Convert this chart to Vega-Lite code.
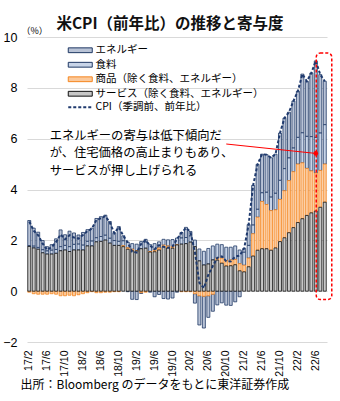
{
  "$schema": "https://vega.github.io/schema/vega-lite/v6.json",
  "width": 300,
  "height": 305,
  "autosize": {"type": "none"},
  "padding": {"left": 27, "top": 37, "right": 13, "bottom": 59},
  "background": "white",
  "config": {"view": {"stroke": null}, "font": "Noto Sans CJK JP"},
  "title": {"text": "米CPI（前年比）の推移と寄与度", "font": "Noto Sans CJK JP", "fontSize": 15.5, "fontWeight": "bold", "color": "#111111", "anchor": "middle", "dx": -7, "offset": 0, "dy": 6},
  "datasets": {
    "cpi": [
      {"m":"17/2","cpi":2.74,"E":0.99,"F":0.03,"G":-0.04,"S":1.76},
      {"m":"17/3","cpi":2.38,"E":0.71,"F":0.07,"G":-0.10,"S":1.70},
      {"m":"17/4","cpi":2.20,"E":0.60,"F":0.07,"G":-0.12,"S":1.65},
      {"m":"17/5","cpi":1.87,"E":0.36,"F":0.12,"G":-0.12,"S":1.51},
      {"m":"17/6","cpi":1.63,"E":0.17,"F":0.12,"G":-0.12,"S":1.46},
      {"m":"17/7","cpi":1.73,"E":0.22,"F":0.15,"G":-0.10,"S":1.46},
      {"m":"17/8","cpi":1.94,"E":0.42,"F":0.15,"G":-0.12,"S":1.49},
      {"m":"17/9","cpi":2.23,"E":0.66,"F":0.16,"G":-0.18,"S":1.59},
      {"m":"17/10","cpi":2.04,"E":0.42,"F":0.18,"G":-0.18,"S":1.62},
      {"m":"17/11","cpi":2.20,"E":0.61,"F":0.19,"G":-0.16,"S":1.56},
      {"m":"17/12","cpi":2.11,"E":0.45,"F":0.22,"G":-0.18,"S":1.62},
      {"m":"18/1","cpi":2.07,"E":0.36,"F":0.23,"G":-0.14,"S":1.62},
      {"m":"18/2","cpi":2.21,"E":0.50,"F":0.19,"G":-0.10,"S":1.62},
      {"m":"18/3","cpi":2.36,"E":0.46,"F":0.18,"G":-0.06,"S":1.78},
      {"m":"18/4","cpi":2.46,"E":0.51,"F":0.19,"G":-0.02,"S":1.78},
      {"m":"18/5","cpi":2.80,"E":0.76,"F":0.16,"G":-0.06,"S":1.94},
      {"m":"18/6","cpi":2.87,"E":0.78,"F":0.19,"G":-0.06,"S":1.96},
      {"m":"18/7","cpi":2.95,"E":0.79,"F":0.19,"G":-0.04,"S":2.01},
      {"m":"18/8","cpi":2.70,"E":0.66,"F":0.19,"G":-0.04,"S":1.89},
      {"m":"18/9","cpi":2.28,"E":0.31,"F":0.19,"G":-0.02,"S":1.80},
      {"m":"18/10","cpi":2.52,"E":0.58,"F":0.16,"G":-0.02,"S":1.80},
      {"m":"18/11","cpi":2.18,"E":0.20,"F":0.19,"G":0.04,"S":1.75},
      {"m":"18/12","cpi":1.91,"E":-0.02,"F":0.22,"G":0.06,"S":1.65},
      {"m":"19/1","cpi":1.55,"E":-0.32,"F":0.22,"G":0.06,"S":1.59},
      {"m":"19/2","cpi":1.52,"E":-0.33,"F":0.27,"G":0.00,"S":1.58},
      {"m":"19/3","cpi":1.86,"E":-0.03,"F":0.28,"G":-0.06,"S":1.67},
      {"m":"19/4","cpi":2.00,"E":0.11,"F":0.24,"G":-0.04,"S":1.69},
      {"m":"19/5","cpi":1.79,"E":-0.04,"F":0.27,"G":0.02,"S":1.54},
      {"m":"19/6","cpi":1.65,"E":-0.22,"F":0.26,"G":0.06,"S":1.55},
      {"m":"19/7","cpi":1.81,"E":-0.13,"F":0.24,"G":0.08,"S":1.62},
      {"m":"19/8","cpi":1.75,"E":-0.29,"F":0.23,"G":0.06,"S":1.75},
      {"m":"19/9","cpi":1.71,"E":-0.31,"F":0.24,"G":0.08,"S":1.70},
      {"m":"19/10","cpi":1.76,"E":-0.27,"F":0.28,"G":0.06,"S":1.69},
      {"m":"19/11","cpi":2.05,"E":-0.04,"F":0.27,"G":0.00,"S":1.82},
      {"m":"19/12","cpi":2.29,"E":0.22,"F":0.24,"G":-0.02,"S":1.85},
      {"m":"20/1","cpi":2.49,"E":0.40,"F":0.24,"G":-0.02,"S":1.87},
      {"m":"20/2","cpi":2.33,"E":0.18,"F":0.24,"G":-0.02,"S":1.93},
      {"m":"20/3","cpi":1.54,"E":-0.37,"F":0.26,"G":-0.10,"S":1.75},
      {"m":"20/4","cpi":0.33,"E":-1.15,"F":0.47,"G":-0.18,"S":1.19},
      {"m":"20/5","cpi":0.12,"E":-1.25,"F":0.54,"G":-0.20,"S":1.03},
      {"m":"20/6","cpi":0.65,"E":-0.85,"F":0.61,"G":-0.18,"S":1.07},
      {"m":"20/7","cpi":0.99,"E":-0.67,"F":0.55,"G":-0.12,"S":1.23},
      {"m":"20/8","cpi":1.31,"E":-0.54,"F":0.55,"G":0.08,"S":1.22},
      {"m":"20/9","cpi":1.37,"E":-0.46,"F":0.53,"G":0.20,"S":1.10},
      {"m":"20/10","cpi":1.18,"E":-0.55,"F":0.53,"G":0.21,"S":0.99},
      {"m":"20/11","cpi":1.17,"E":-0.56,"F":0.50,"G":0.23,"S":1.00},
      {"m":"20/12","cpi":1.36,"E":-0.42,"F":0.53,"G":0.21,"S":1.04},
      {"m":"21/1","cpi":1.40,"E":-0.22,"F":0.54,"G":0.28,"S":0.80},
      {"m":"21/2","cpi":1.68,"E":0.15,"F":0.51,"G":0.26,"S":0.76},
      {"m":"21/3","cpi":2.62,"E":0.82,"F":0.50,"G":0.34,"S":0.96},
      {"m":"21/4","cpi":4.16,"E":1.56,"F":0.34,"G":0.88,"S":1.38},
      {"m":"21/5","cpi":4.99,"E":1.77,"F":0.31,"G":1.30,"S":1.61},
      {"m":"21/6","cpi":5.39,"E":1.52,"F":0.34,"G":1.86,"S":1.67},
      {"m":"21/7","cpi":5.37,"E":1.48,"F":0.48,"G":1.74,"S":1.67},
      {"m":"21/8","cpi":5.25,"E":1.55,"F":0.53,"G":1.56,"S":1.61},
      {"m":"21/9","cpi":5.39,"E":1.54,"F":0.65,"G":1.50,"S":1.70},
      {"m":"21/10","cpi":6.22,"E":1.86,"F":0.75,"G":1.66,"S":1.95},
      {"m":"21/11","cpi":6.81,"E":1.99,"F":0.87,"G":1.85,"S":2.10},
      {"m":"21/12","cpi":7.04,"E":1.80,"F":0.89,"G":2.05,"S":2.30},
      {"m":"22/1","cpi":7.48,"E":1.85,"F":0.93,"G":2.20,"S":2.50},
      {"m":"22/2","cpi":7.87,"E":1.82,"F":1.05,"G":2.30,"S":2.70},
      {"m":"22/3","cpi":8.54,"E":2.31,"F":1.18,"G":2.20,"S":2.85},
      {"m":"22/4","cpi":8.26,"E":2.17,"F":1.26,"G":1.85,"S":2.98},
      {"m":"22/5","cpi":8.58,"E":2.50,"F":1.35,"G":1.65,"S":3.08},
      {"m":"22/6","cpi":9.06,"E":3.01,"F":1.40,"G":1.50,"S":3.15},
      {"m":"22/7","cpi":8.52,"E":2.30,"F":1.47,"G":1.45,"S":3.30},
      {"m":"22/8","cpi":8.26,"E":1.71,"F":1.55,"G":1.50,"S":3.50}
    ]
  },
  "layer": [
    {
      "data": {"name": "cpi"},
      "transform": [{"fold": ["E", "F", "G", "S"], "as": ["c", "v"]}],
      "mark": {"type": "bar", "size": 3, "strokeWidth": 0.8},
      "encoding": {
        "x": {
          "field": "m", "type": "ordinal", "sort": null,
          "scale": {"paddingInner": 0.1, "paddingOuter": 0.05},
          "axis": {
            "values": ["17/2","17/6","17/10","18/2","18/6","18/10","19/2","19/6","19/10","20/2","20/6","20/10","21/2","21/6","21/10","22/2","22/6"],
            "labelAngle": -90, "labelFont": "Liberation Sans", "labelFontSize": 10.5, "labelColor": "#000000",
            "ticks": false, "domain": false, "grid": false, "labelPadding": 8,
            "title": "出所：Bloomberg のデータをもとに東洋証券作成",
            "titleFont": "Noto Sans CJK JP", "titleFontSize": 12, "titleFontWeight": "normal", "titleColor": "#000000",
            "titleAnchor": "start", "titleAlign": "left", "titleBaseline": "middle", "titleX": -7, "titleY": 42
          }
        },
        "y": {
          "field": "v", "type": "quantitative",
          "scale": {"domain": [-2, 10], "nice": false, "zero": false},
          "axis": {
            "values": [-2, 0, 2, 4, 6, 8, 10],
            "labelFont": "Liberation Sans", "labelFontSize": 12.5, "labelColor": "#000000",
            "ticks": false, "domain": false, "labelPadding": 10,
            "gridColor": "#d9d9d9", "gridWidth": 1,
            "title": "（%）", "titleAngle": 0, "titleFont": "Noto Sans CJK JP", "titleFontSize": 9, "titleFontWeight": "normal", "titleColor": "#000000",
            "titleAlign": "left", "titleBaseline": "middle", "titleX": -6, "titleY": -7
          }
        },
        "color": {
          "field": "c", "type": "nominal",
          "scale": {"domain": ["E", "F", "G", "S"], "range": ["#b9c3d6", "#c9d5e8", "#fbc99b", "#c8c8c8"]},
          "legend": {
            "title": null, "orient": "none", "legendX": 40, "legendY": 8, "padding": 0,
            "labelExpr": "datum.value == 'E' ? 'エネルギー' : datum.value == 'F' ? '食料' : datum.value == 'G' ? '商品（除く食料、エネルギー）' : 'サービス（除く食料、エネルギー）'",
            "symbolType": "M-1,-0.6H5V0.6H-1Z", "symbolSize": 64, "symbolStrokeWidth": 1, "symbolStrokeColor": "#3b4a66",
            "labelFont": "Noto Sans CJK JP", "labelFontSize": 10.5, "labelColor": "#000000", "labelLimit": 300,
            "rowPadding": 3.5, "labelOffset": 18
          }
        },
        "stroke": {
          "field": "c", "type": "nominal",
          "scale": {"domain": ["E", "F", "G", "S"], "range": ["#1f3864", "#1f3864", "#f5861f", "#111111"]},
          "legend": null
        }
      }
    },
    {
      "data": {"name": "cpi"},
      "mark": {"type": "line", "color": "#1f3a6e", "strokeWidth": 2},
      "encoding": {
        "x": {"field": "m", "type": "ordinal", "sort": null},
        "y": {"field": "cpi", "type": "quantitative"},
        "strokeDash": {
          "datum": "CPI（季調前、前年比）",
          "scale": {"range": [[3, 2]]},
          "legend": {
            "title": null, "orient": "none", "legendX": 40, "legendY": 65, "padding": 0,
            "symbolType": "M-1,0H5", "symbolSize": 64, "symbolStrokeWidth": 2, "symbolStrokeColor": "#1f3a6e",
            "labelFont": "Noto Sans CJK JP", "labelFontSize": 10.5, "labelColor": "#000000", "labelLimit": 300, "labelOffset": 18
          }
        }
      }
    },
    {
      "data": {"values": [
        {"m": "17/7", "v": 6.1, "t": "エネルギーの寄与は低下傾向だ"},
        {"m": "17/7", "v": 5.42, "t": "が、住宅価格の高止まりもあり、"},
        {"m": "17/7", "v": 4.74, "t": "サービスが押し上げられる"}
      ]},
      "mark": {"type": "text", "align": "left", "baseline": "middle", "font": "Noto Sans CJK JP", "fontSize": 12.3, "lineHeight": 14, "color": "#000000", "dx": -2},
      "encoding": {
        "x": {"field": "m", "type": "ordinal", "sort": null},
        "y": {"field": "v", "type": "quantitative"},
        "text": {"field": "t"}
      }
    },
    {
      "data": {"values": [{"m": "20/10", "v": 5.79}, {"m": "22/6", "v": 5.42}]},
      "mark": {"type": "line", "color": "#ff0000", "strokeWidth": 1},
      "encoding": {
        "x": {"field": "m", "type": "ordinal", "sort": null},
        "y": {"field": "v", "type": "quantitative"}
      }
    },
    {
      "data": {"values": [{"m": "22/6", "v": 5.42}]},
      "mark": {"type": "point", "filled": true, "color": "#ff0000", "size": 22, "opacity": 1},
      "encoding": {
        "x": {"field": "m", "type": "ordinal", "sort": null},
        "y": {"field": "v", "type": "quantitative"}
      }
    },
    {
      "data": {"values": [{"a": "22/7", "b": "22/8", "top": 9.37, "bottom": -0.33}]},
      "mark": {"type": "rect", "fill": null, "fillOpacity": 0, "stroke": "#ff0000", "strokeWidth": 1.5, "strokeDash": [3, 2], "cornerRadius": 4, "xOffset": -2, "x2Offset": 5},
      "encoding": {
        "x": {"field": "a", "type": "ordinal", "sort": null, "bandPosition": 0},
        "x2": {"field": "b", "bandPosition": 1},
        "y": {"field": "top", "type": "quantitative"},
        "y2": {"field": "bottom"}
      }
    }
  ]
}
